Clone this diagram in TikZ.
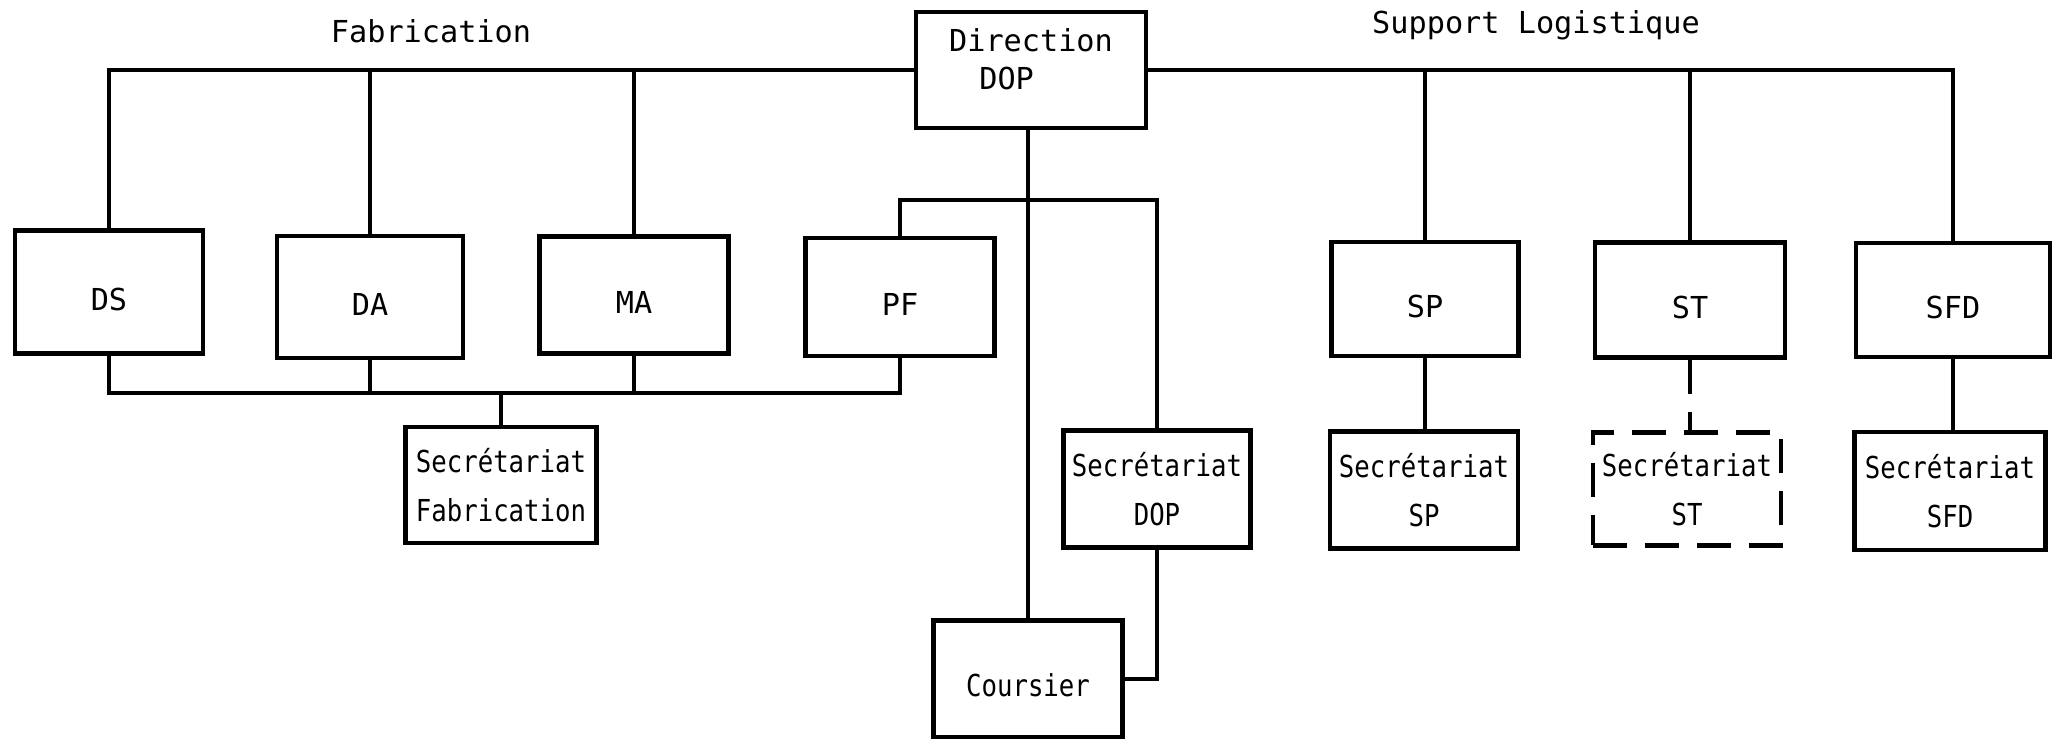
\documentclass[tikz,border=0pt]{standalone}
\usepackage{fontspec}
\setmonofont{DejaVu Sans Mono}
\newfontfamily\narrowtt[FakeStretch=0.85]{DejaVu Sans Mono}
\newcommand{\widefont}{\ttfamily\fontsize{8.6}{10.8}\selectfont}
\newcommand{\narrowfont}{\narrowtt\fontsize{8.6}{13.9}\selectfont}

\begin{document}
\begin{tikzpicture}[x=0.1mm, y=-0.1mm,
  frame/.style={draw, line width=1.35pt, inner sep=0pt,
    minimum width=18.8mm, minimum height=11.8mm},
  unit/.style={frame, font=\widefont, text height=10.6pt, text depth=0pt},
  sec/.style={frame, font=\narrowfont, align=center},
  link/.style={line width=1.15pt},
  planned/.style={dash pattern=on 3.4mm off 1.8mm},
  title/.style={font=\widefont, inner sep=0pt}]
\useasboundingbox[fill=white] (0,0) rectangle (2059,739);

% headings
\node[title] (fab) at (431,31) {Fabrication};
\node[title] (sl) at (1536,25) {Support Logistique};

% management
\node[frame, minimum width=23mm, minimum height=11.6mm] (dir) at (1031,70) {};
\node[title, align=left] (dirtext) at (1031,59) {Direction\\\hspace*{1em}DOP};

% manufacturing units
\node[unit, minimum height=12.3mm] (ds) at (109,292) {DS};
\node[unit, minimum width=18.6mm, minimum height=12.2mm] (da) at (370,297) {DA};
\node[unit, minimum width=18.9mm, minimum height=11.7mm] (ma) at (634,295) {MA};
\node[unit, minimum width=18.9mm] (pf) at (900,297) {PF};

% logistics units
\node[unit, minimum width=18.7mm, minimum height=11.4mm] (sp) at (1425,299) {SP};
\node[unit, minimum width=19mm, minimum height=11.5mm] (st) at (1690,300) {ST};
\node[unit, minimum width=19.4mm, minimum height=11.4mm] (sfd) at (1953,300) {SFD};

% secretariats and courier
\node[sec, minimum width=19.1mm, minimum height=11.6mm] (secfab) at (501,485) {Secrétariat\\Fabrication};
\node[sec, minimum width=18.7mm, minimum height=11.7mm] (secdop) at (1157,489) {Secrétariat\\DOP};
\node[sec, text height=10pt, text depth=0pt, minimum width=18.9mm, minimum height=11.7mm] (cour) at (1028,679) {Coursier};
\node[sec, minimum height=11.7mm] (secsp) at (1424,490) {Secrétariat\\SP};
\node[sec, planned, minimum height=11.3mm] (secst) at (1687,489) {Secrétariat\\ST};
\node[sec, minimum width=19.1mm, minimum height=11.8mm] (secsfd) at (1950,491) {Secrétariat\\SFD};

% top bus: manufacturing side
\draw[link] (ds) |- (dir);
\draw[link] (da.north) -- (da.north |- dir.west);
\draw[link] (ma.north) -- (ma.north |- dir.west);

% top bus: logistics side
\draw[link] (dir) -| (sfd);
\draw[link] (sp.north) -- (sp.north |- dir.east);
\draw[link] (st.north) -- (st.north |- dir.east);

% direction down to the courier
\draw[link] (dir.south -| cour.north) -- (cour.north);

% PF linked to the DOP secretariat
\coordinate (pfknee) at (900,200);
\draw[link] (pf.north) -- (pfknee) -| (secdop.north);

% bottom bus to the manufacturing secretariat
\coordinate (fabbus) at (501,393);
\draw[link] (ds.south) |- (fabbus) -| (pf.south);
\draw[link] (da.south) -- (da.south |- fabbus);
\draw[link] (ma.south) -- (ma.south |- fabbus);
\draw[link] (fabbus) -- (secfab.north);

% DOP secretariat to the courier
\draw[link] (secdop.south) |- (cour.east);

% logistics secretariats
\draw[link] (sp.south) -- (sp.south |- secsp.north);
\draw[link, planned] (st.south) -- (st.south |- secst.north);
\draw[link] (sfd.south) -- (sfd.south |- secsfd.north);
\end{tikzpicture}
\end{document}
